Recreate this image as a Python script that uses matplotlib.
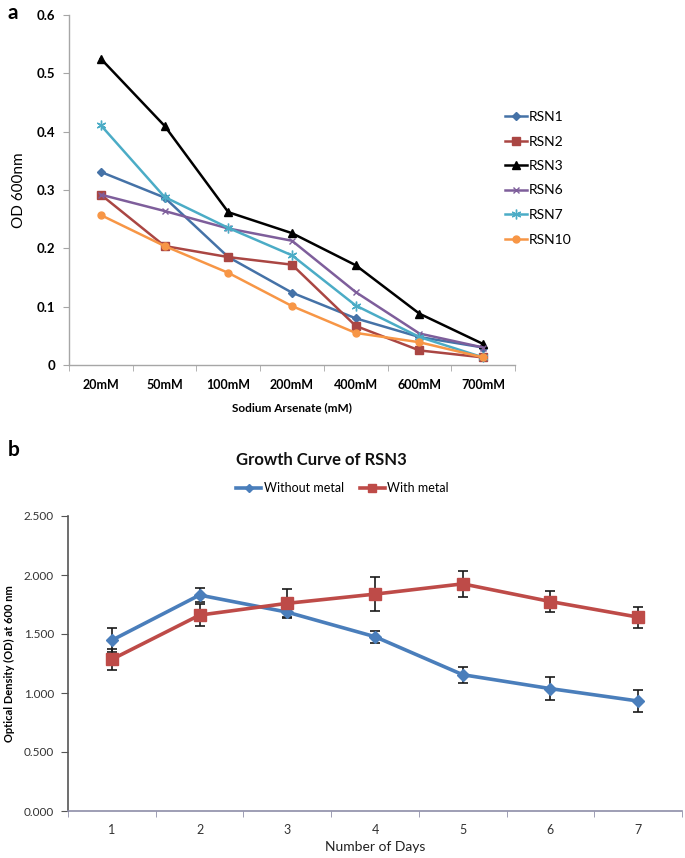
import matplotlib
matplotlib.use("Agg")
import matplotlib.pyplot as plt
from matplotlib.lines import Line2D
import numpy as np

plt.rcParams['font.family'] = ['Lato', 'DejaVu Sans']

# ---------- Panel a data ----------
conc_labels = ["20mM", "50mM", "100mM", "200mM", "400mM", "600mM", "700mM"]
rsn1 = [0.331, 0.287, 0.185, 0.124, 0.080, 0.048, 0.030]
rsn2 = [0.292, 0.204, 0.185, 0.172, 0.067, 0.025, 0.013]
rsn3 = [0.525, 0.410, 0.262, 0.226, 0.171, 0.088, 0.036]
rsn6 = [0.292, 0.264, 0.234, 0.213, 0.125, 0.054, 0.030]
rsn7 = [0.411, 0.288, 0.235, 0.188, 0.102, 0.048, 0.013]
rsn10 = [0.257, 0.204, 0.158, 0.101, 0.055, 0.039, 0.013]
a_yticks = [0, 0.1, 0.2, 0.3, 0.4, 0.5, 0.6]
a_yticklabels = ["0", "0.1", "0.2", "0.3", "0.4", "0.5", "0.6"]

# ---------- Panel b data ----------
days = ["1", "2", "3", "4", "5", "6", "7"]
without_metal = [1.447, 1.830, 1.685, 1.477, 1.155, 1.037, 0.932]
without_err = [0.100, 0.062, 0.050, 0.050, 0.068, 0.098, 0.095]
with_metal = [1.285, 1.660, 1.760, 1.838, 1.925, 1.775, 1.643]
with_err = [0.090, 0.095, 0.120, 0.145, 0.112, 0.092, 0.088]
b_yticks = [0.0, 0.5, 1.0, 1.5, 2.0, 2.5]
b_yticklabels = ["0.000", "0.500", "1.000", "1.500", "2.000", "2.500"]

W, H = 685, 858
fig = plt.figure(figsize=(W / 100, H / 100), dpi=100)

def ax_rect(l, t, r, b):
    return [l / W, 1 - b / H, (r - l) / W, (b - t) / H]

# ================= Panel a =================
axa = fig.add_axes(ax_rect(69, 15, 515, 365))
xa = np.arange(len(conc_labels))
series = [
    ("RSN1", rsn1, "#4572A7", "D", 4, 1.8),
    ("RSN2", rsn2, "#AA4643", "s", 5.5, 1.8),
    ("RSN3", rsn3, "#000000", "^", 6, 1.8),
    ("RSN6", rsn6, "#7E5E9B", "x", 5, 1.8),
    ("RSN7", rsn7, "#4BACC6", (6, 2, 0), 7, 1.8),
    ("RSN10", rsn10, "#F79646", "o", 5, 1.8),
]
handles = []
for name, vals, col, mk, ms, lw in series:
    h, = axa.plot(xa, vals, color=col, marker=mk, markersize=ms, lw=lw,
                  label=name, markeredgecolor=col, markerfacecolor=col,
                  markeredgewidth=1.0)
    handles.append(h)

axa.set_xlim(-0.5, len(conc_labels) - 0.5)
axa.set_ylim(0, 0.6)
axa.set_yticks(a_yticks)
axa.set_yticklabels(a_yticklabels, fontsize=9.5, fontweight='bold')
axa.set_xticks(xa)
axa.set_xticklabels(conc_labels, fontsize=9, fontweight='bold')
axa.set_xticks(np.arange(-0.5, len(conc_labels)), minor=True)
axa.tick_params(axis='x', which='major', length=0, pad=10)
axa.tick_params(axis='x', which='minor', length=4, color='#a6a6a6', direction='out')
axa.tick_params(axis='y', length=4, color='#a6a6a6', direction='out', pad=6)
for s in ['top', 'right']:
    axa.spines[s].set_visible(False)
for s in ['left', 'bottom']:
    axa.spines[s].set_color('#a6a6a6')
    axa.spines[s].set_linewidth(1.0)
axa.set_ylabel("OD 600nm", fontsize=11)
axa.yaxis.set_label_coords((26 - 69) / 446, 0.5)
axa.set_xlabel("Sodium Arsenate (mM)", fontsize=8.5, fontweight='bold', labelpad=8)

axa.legend(handles=handles, loc='upper left',
           bbox_to_anchor=(505 / W, 1 - 111 / H),
           bbox_transform=fig.transFigure, frameon=False,
           fontsize=10, handlelength=1.6, handletextpad=0.1,
           labelspacing=0.9, borderpad=0, borderaxespad=0)

fig.text(8 / W, 1 - 3 / H, "a", fontsize=15, fontweight='bold', va='top', ha='left')

# ================= Panel b =================
axb = fig.add_axes(ax_rect(68, 516, 682, 811))
xb = np.arange(len(days))
blue, red = '#4A7EBB', '#BE4B48'
axb.errorbar(xb, without_metal, yerr=without_err, color=blue, lw=2.6,
             marker='D', markersize=6, markerfacecolor=blue,
             markeredgecolor=blue, ecolor='#1a1a1a', elinewidth=1.2,
             capsize=3.5, capthick=1.2, zorder=3)
axb.errorbar(xb, with_metal, yerr=with_err, color=red, lw=2.6,
             marker='s', markersize=8, markerfacecolor=red,
             markeredgecolor=red, ecolor='#1a1a1a', elinewidth=1.2,
             capsize=3.5, capthick=1.2, zorder=3)

axb.set_xlim(-0.5, len(days) - 0.5)
axb.set_ylim(0, 2.5)
axb.set_yticks(b_yticks)
axb.set_yticklabels(b_yticklabels, fontsize=8.5, color='#333333')
axb.set_xticks(xb)
axb.set_xticklabels(days, fontsize=9, color='#333333')
axb.set_xticks(np.arange(-0.5, len(days)), minor=True)
axb.tick_params(axis='x', which='major', length=0, pad=9)
axb.tick_params(axis='x', which='minor', length=4, color='#8e8ea8', direction='out')
axb.tick_params(axis='y', length=5, color='#555555', direction='out', pad=5)
for s in ['top', 'right']:
    axb.spines[s].set_visible(False)
axb.spines['left'].set_color('#555555')
axb.spines['left'].set_linewidth(1.2)
axb.spines['bottom'].set_color('#8e8ea8')
axb.spines['bottom'].set_linewidth(1.2)
axb.set_ylabel("Optical Density (OD) at 600 nm", fontsize=8, fontweight='bold')
axb.yaxis.set_label_coords((15 - 68) / 614, 0.5)
axb.set_xlabel("Number of Days", fontsize=10, color='#222222', labelpad=4)

fig.text(236 / W, 1 - 460 / H, "Growth Curve of RSN3", fontsize=12,
         fontweight='bold', va='center', ha='left', color='#111111')
hb = [Line2D([], [], color=blue, lw=2.6, marker='D', markersize=4),
      Line2D([], [], color=red, lw=2.6, marker='s', markersize=6)]
axb.legend(hb, ["Without metal", "With metal"], loc='center left',
           bbox_to_anchor=(236 / W, 1 - 488 / H),
           bbox_transform=fig.transFigure, frameon=False, ncol=2,
           fontsize=9, handlelength=2.0, handletextpad=0.2, columnspacing=1.3,
           borderpad=0, borderaxespad=0)

fig.text(8 / W, 1 - 440 / H, "b", fontsize=15, fontweight='bold', va='top', ha='left')

fig.savefig("out.png", dpi=100)
